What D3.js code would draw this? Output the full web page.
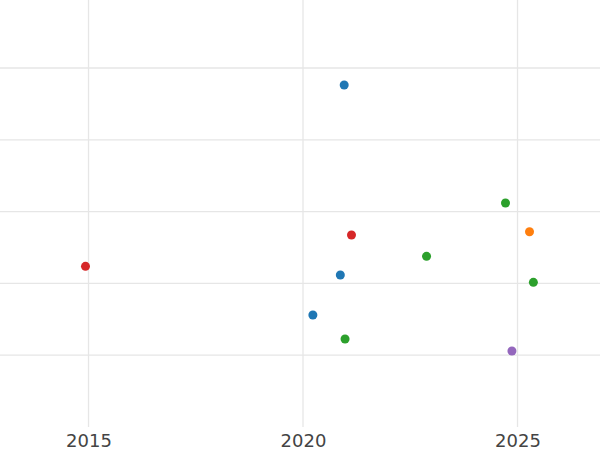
<!DOCTYPE html>
<html>
<head>
<meta charset="utf-8">
<script src="https://cdn.jsdelivr.net/npm/d3@7"></script>
<style>
  html, body { margin: 0; padding: 0; background: #fff; }
  svg { display: block; }
</style>
</head>
<body>
<div id="chart"></div>
<script>
// ---- data ----
const xTickValues = [2015, 2020, 2025];
const xTickLabels = ["2015", "2020", "2025"];
const yGridValues = [1, 2, 3, 4, 5];

const seriesNames = ["blue", "orange", "green", "red", "purple"];
const seriesColors = ["#1f77b4", "#ff7f0e", "#2ca02c", "#d62728", "#9467bd"];

const blueX = [2020.96, 2020.87, 2020.23];
const blueY = [4.763, 2.117, 1.56];
const orangeX = [2025.28];
const orangeY = [2.72];
const greenX = [2024.72, 2022.88, 2025.37, 2020.98];
const greenY = [3.12, 2.377, 2.015, 1.226];
const redX = [2021.13, 2014.93];
const redY = [2.674, 2.238];
const purpleX = [2024.87];
const purpleY = [1.058];

const seriesX = [blueX, orangeX, greenX, redX, purpleX];
const seriesY = [blueY, orangeY, greenY, redY, purpleY];

// ---- layout ----
const W = 600, H = 450;
const plotBottom = 427;

const x = d3.scaleLinear().domain([2012.937, 2026.923]).range([0, W]);
const y = d3.scaleLinear().domain([0, 6]).range([plotBottom, plotBottom - 6 * 71.8]);

const svg = d3.select("#chart").append("svg")
  .attr("width", W).attr("height", H);

svg.append("rect").attr("width", W).attr("height", H).attr("fill", "#fff");

const grid = svg.append("g");
grid.selectAll("line.h").data(yGridValues).join("line")
  .attr("class", "h")
  .attr("x1", 0).attr("x2", W)
  .attr("y1", d => y(d)).attr("y2", d => y(d))
  .attr("stroke", "#e6e6e6").attr("stroke-width", 1.3);

grid.selectAll("line.v").data(xTickValues).join("line")
  .attr("class", "v")
  .attr("x1", d => x(d)).attr("x2", d => x(d))
  .attr("y1", 0).attr("y2", plotBottom)
  .attr("stroke", "#e6e6e6").attr("stroke-width", 1.3);

// x axis labels
const xAxis = d3.axisBottom(x)
  .tickValues(xTickValues)
  .tickFormat((d, i) => xTickLabels[i])
  .tickSize(0)
  .tickPadding(0);

const ax = svg.append("g")
  .attr("transform", `translate(0,${plotBottom})`)
  .call(xAxis);
ax.select(".domain").remove();
ax.selectAll("text")
  .attr("dy", null)
  .attr("y", 20)
  .attr("font-family", "DejaVu Sans, sans-serif")
  .attr("font-size", 18)
  .attr("fill", "#444");

// points
seriesNames.forEach((name, si) => {
  const pts = seriesX[si].map((xv, i) => ({ x: xv, y: seriesY[si][i] }));
  svg.append("g").selectAll("circle").data(pts).join("circle")
    .attr("cx", d => x(d.x))
    .attr("cy", d => y(d.y))
    .attr("r", 4.5)
    .attr("fill", seriesColors[si]);
});
</script>
</body>
</html>
